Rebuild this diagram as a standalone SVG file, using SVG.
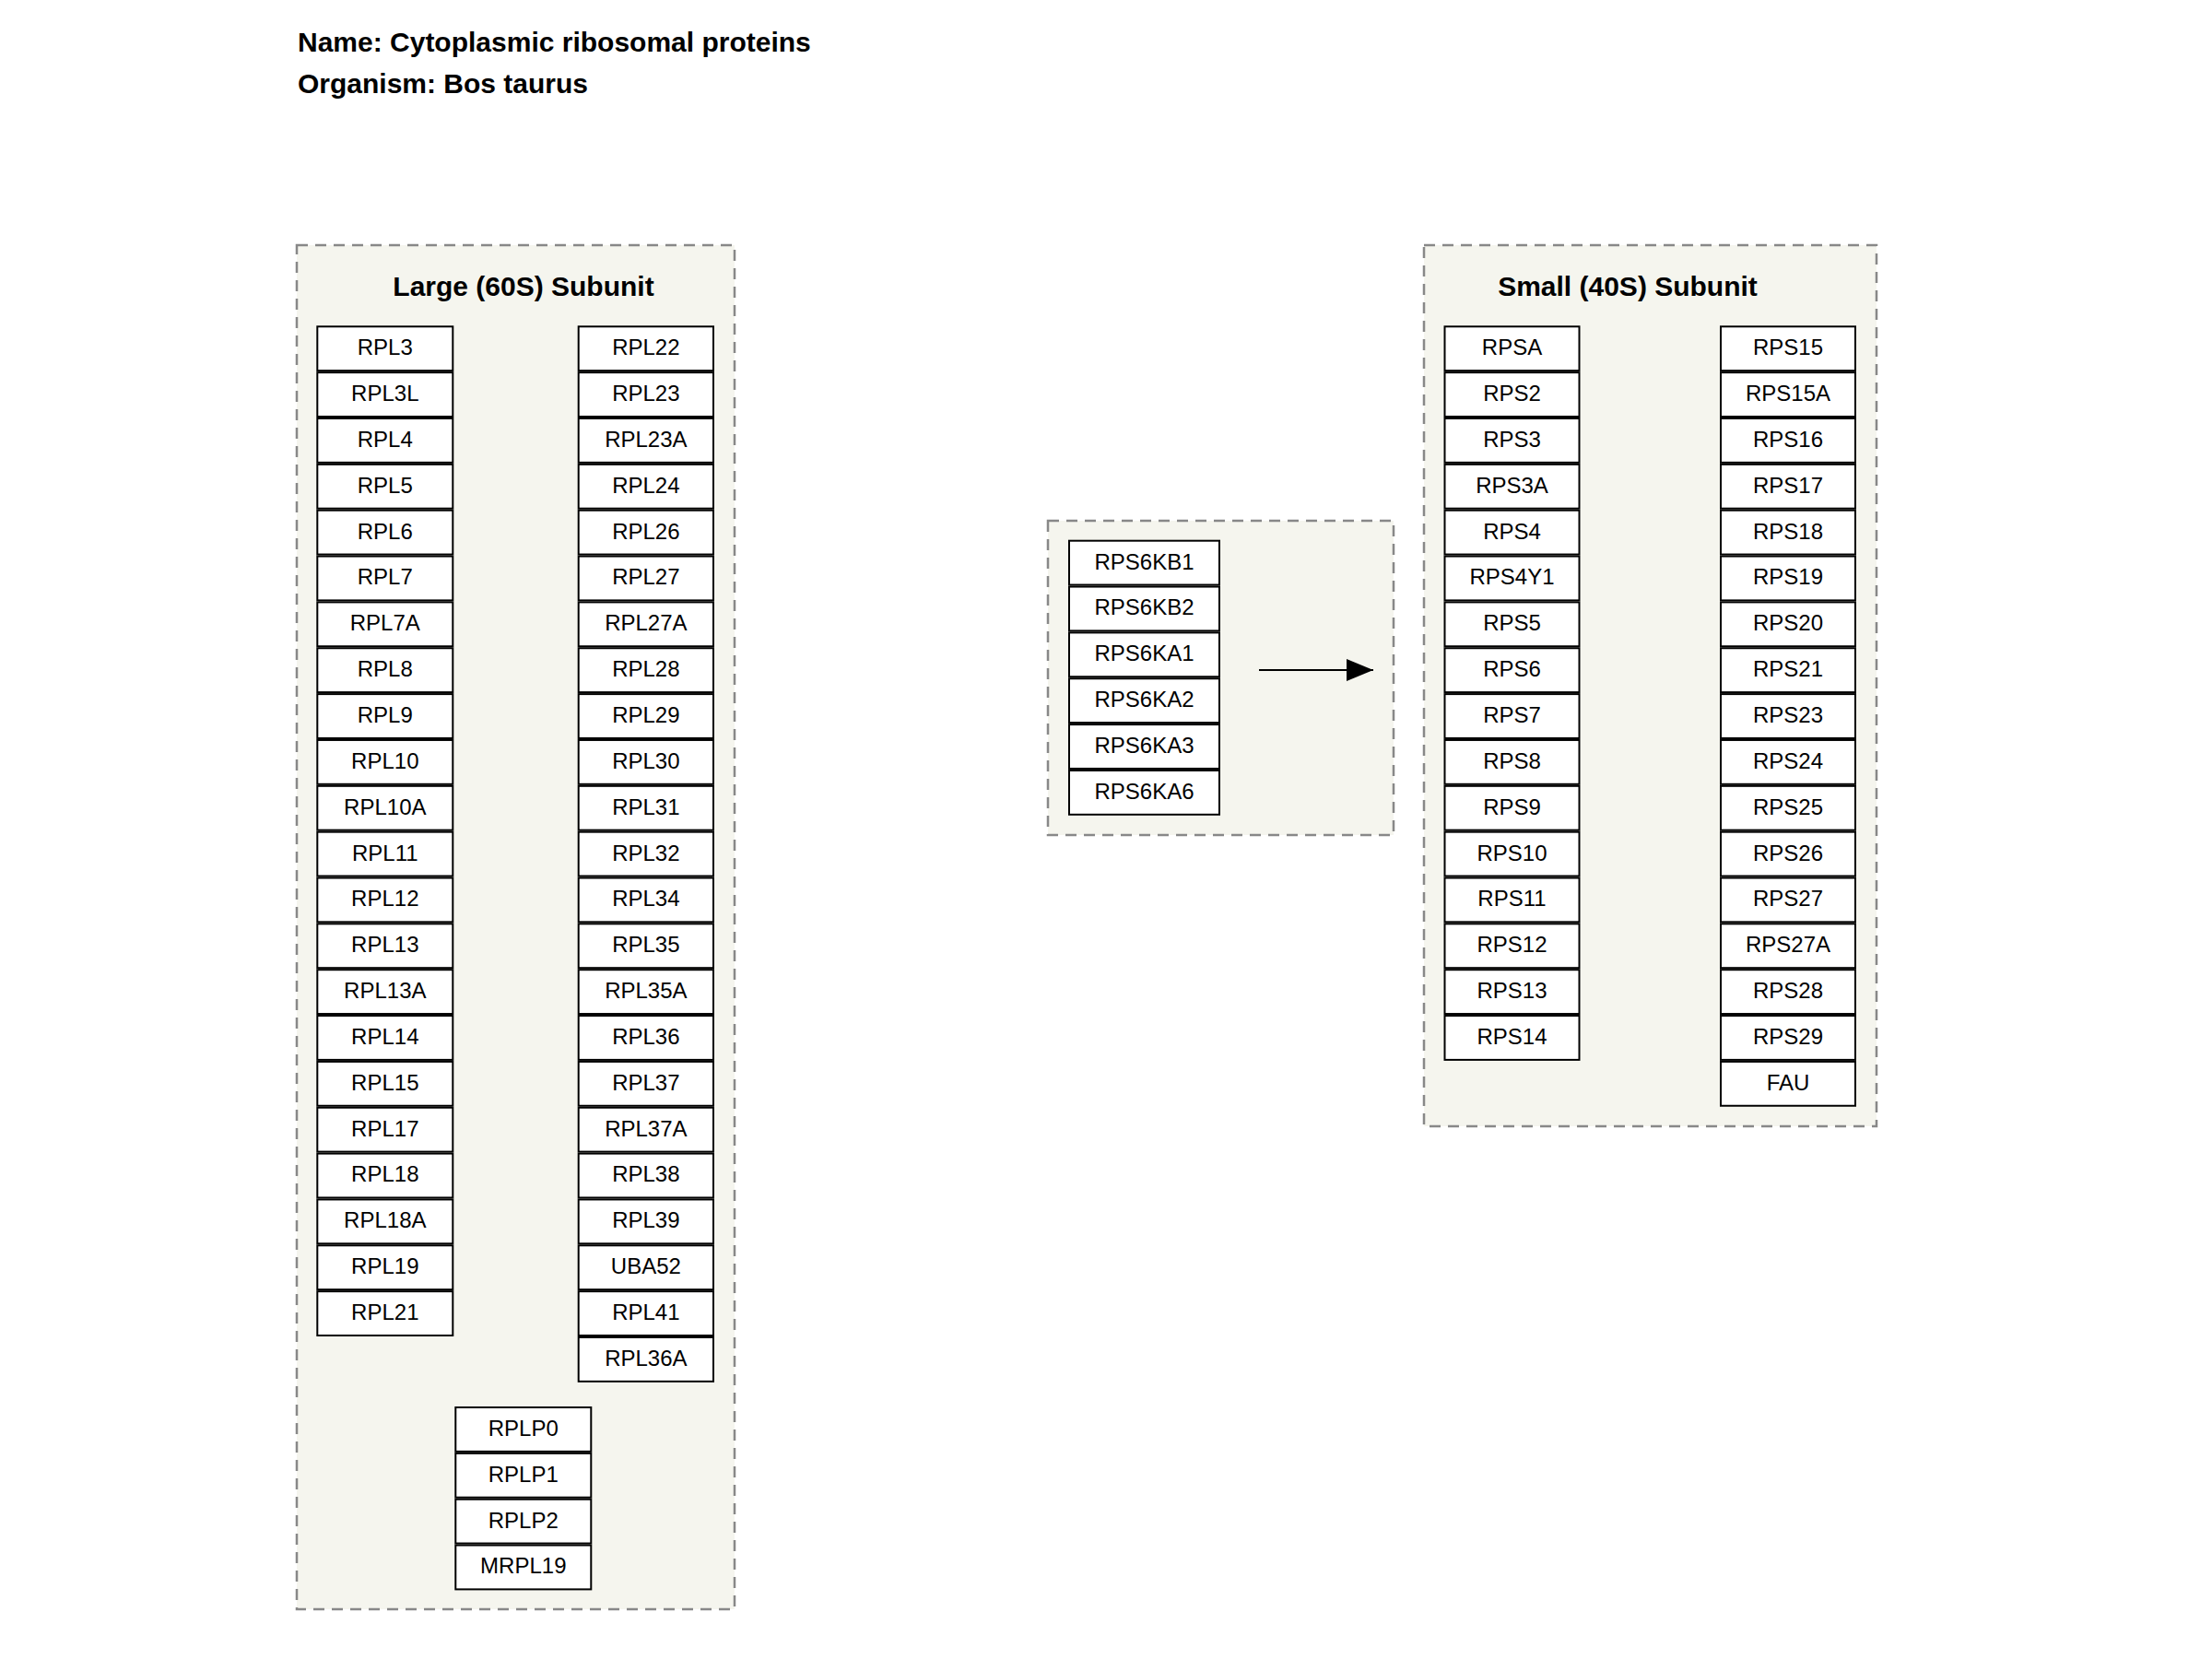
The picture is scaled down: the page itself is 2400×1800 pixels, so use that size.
<svg xmlns="http://www.w3.org/2000/svg" width="2400" height="1800" viewBox="0 0 2400 1800">
<style>
text{font-family:"Liberation Sans",Arial,Helvetica,sans-serif;fill:#000}
.t{font-size:30px;font-weight:bold}
.gl{font-size:30px;font-weight:bold;text-anchor:middle}
.grp{fill:#f5f5ee;stroke:#888;stroke-width:2.5;stroke-dasharray:12,8}
.n rect{fill:#fff;stroke:#000;stroke-width:2}
.n text{font-size:24px;text-anchor:middle}
</style>
<defs>
<marker id="arr" markerWidth="29" markerHeight="24" refX="29" refY="12" orient="auto" markerUnits="userSpaceOnUse"><path d="M0,0 L29,12 L0,24 Z" fill="#000"/></marker>
</defs>
<rect width="2400" height="1800" fill="#fff"/>
<text class="t" x="323" y="56">Name: Cytoplasmic ribosomal proteins</text>
<text class="t" x="323" y="101">Organism: Bos taurus</text>

<g id="group-large">
<rect class="grp" x="322" y="266" width="475" height="1480"/>
<text class="gl" x="568" y="321">Large (60S) Subunit</text>
</g>
<g id="group-small">
<rect class="grp" x="1545" y="266" width="491" height="956"/>
<text class="gl" x="1766" y="321">Small (40S) Subunit</text>
</g>
<g id="group-kinases">
<rect class="grp" x="1137" y="565" width="375" height="341"/>
</g>

<g id="connectors">
<line x1="1366" y1="727" x2="1490" y2="727" stroke="#000" stroke-width="2" marker-end="url(#arr)"/>
</g>

<g id="RPL3" class="n"><rect x="344.3" y="354.3" width="147" height="47.85"/><text x="417.8" y="385.15">RPL3</text></g>
<g id="RPL3L" class="n"><rect x="344.3" y="404.15" width="147" height="47.85"/><text x="417.8" y="435">RPL3L</text></g>
<g id="RPL4" class="n"><rect x="344.3" y="454" width="147" height="47.85"/><text x="417.8" y="484.85">RPL4</text></g>
<g id="RPL5" class="n"><rect x="344.3" y="503.85" width="147" height="47.85"/><text x="417.8" y="534.7">RPL5</text></g>
<g id="RPL6" class="n"><rect x="344.3" y="553.7" width="147" height="47.85"/><text x="417.8" y="584.55">RPL6</text></g>
<g id="RPL7" class="n"><rect x="344.3" y="603.55" width="147" height="47.85"/><text x="417.8" y="634.4">RPL7</text></g>
<g id="RPL7A" class="n"><rect x="344.3" y="653.4" width="147" height="47.85"/><text x="417.8" y="684.25">RPL7A</text></g>
<g id="RPL8" class="n"><rect x="344.3" y="703.25" width="147" height="47.85"/><text x="417.8" y="734.1">RPL8</text></g>
<g id="RPL9" class="n"><rect x="344.3" y="753.1" width="147" height="47.85"/><text x="417.8" y="783.95">RPL9</text></g>
<g id="RPL10" class="n"><rect x="344.3" y="802.95" width="147" height="47.85"/><text x="417.8" y="833.8">RPL10</text></g>
<g id="RPL10A" class="n"><rect x="344.3" y="852.8" width="147" height="47.85"/><text x="417.8" y="883.65">RPL10A</text></g>
<g id="RPL11" class="n"><rect x="344.3" y="902.65" width="147" height="47.85"/><text x="417.8" y="933.5">RPL11</text></g>
<g id="RPL12" class="n"><rect x="344.3" y="952.5" width="147" height="47.85"/><text x="417.8" y="983.35">RPL12</text></g>
<g id="RPL13" class="n"><rect x="344.3" y="1002.35" width="147" height="47.85"/><text x="417.8" y="1033.2">RPL13</text></g>
<g id="RPL13A" class="n"><rect x="344.3" y="1052.2" width="147" height="47.85"/><text x="417.8" y="1083.05">RPL13A</text></g>
<g id="RPL14" class="n"><rect x="344.3" y="1102.05" width="147" height="47.85"/><text x="417.8" y="1132.9">RPL14</text></g>
<g id="RPL15" class="n"><rect x="344.3" y="1151.9" width="147" height="47.85"/><text x="417.8" y="1182.75">RPL15</text></g>
<g id="RPL17" class="n"><rect x="344.3" y="1201.75" width="147" height="47.85"/><text x="417.8" y="1232.6">RPL17</text></g>
<g id="RPL18" class="n"><rect x="344.3" y="1251.6" width="147" height="47.85"/><text x="417.8" y="1282.45">RPL18</text></g>
<g id="RPL18A" class="n"><rect x="344.3" y="1301.45" width="147" height="47.85"/><text x="417.8" y="1332.3">RPL18A</text></g>
<g id="RPL19" class="n"><rect x="344.3" y="1351.3" width="147" height="47.85"/><text x="417.8" y="1382.15">RPL19</text></g>
<g id="RPL21" class="n"><rect x="344.3" y="1401.15" width="147" height="47.85"/><text x="417.8" y="1432">RPL21</text></g>

<g id="RPL22" class="n"><rect x="627.7" y="354.3" width="146.3" height="47.85"/><text x="700.85" y="385.15">RPL22</text></g>
<g id="RPL23" class="n"><rect x="627.7" y="404.15" width="146.3" height="47.85"/><text x="700.85" y="435">RPL23</text></g>
<g id="RPL23A" class="n"><rect x="627.7" y="454" width="146.3" height="47.85"/><text x="700.85" y="484.85">RPL23A</text></g>
<g id="RPL24" class="n"><rect x="627.7" y="503.85" width="146.3" height="47.85"/><text x="700.85" y="534.7">RPL24</text></g>
<g id="RPL26" class="n"><rect x="627.7" y="553.7" width="146.3" height="47.85"/><text x="700.85" y="584.55">RPL26</text></g>
<g id="RPL27" class="n"><rect x="627.7" y="603.55" width="146.3" height="47.85"/><text x="700.85" y="634.4">RPL27</text></g>
<g id="RPL27A" class="n"><rect x="627.7" y="653.4" width="146.3" height="47.85"/><text x="700.85" y="684.25">RPL27A</text></g>
<g id="RPL28" class="n"><rect x="627.7" y="703.25" width="146.3" height="47.85"/><text x="700.85" y="734.1">RPL28</text></g>
<g id="RPL29" class="n"><rect x="627.7" y="753.1" width="146.3" height="47.85"/><text x="700.85" y="783.95">RPL29</text></g>
<g id="RPL30" class="n"><rect x="627.7" y="802.95" width="146.3" height="47.85"/><text x="700.85" y="833.8">RPL30</text></g>
<g id="RPL31" class="n"><rect x="627.7" y="852.8" width="146.3" height="47.85"/><text x="700.85" y="883.65">RPL31</text></g>
<g id="RPL32" class="n"><rect x="627.7" y="902.65" width="146.3" height="47.85"/><text x="700.85" y="933.5">RPL32</text></g>
<g id="RPL34" class="n"><rect x="627.7" y="952.5" width="146.3" height="47.85"/><text x="700.85" y="983.35">RPL34</text></g>
<g id="RPL35" class="n"><rect x="627.7" y="1002.35" width="146.3" height="47.85"/><text x="700.85" y="1033.2">RPL35</text></g>
<g id="RPL35A" class="n"><rect x="627.7" y="1052.2" width="146.3" height="47.85"/><text x="700.85" y="1083.05">RPL35A</text></g>
<g id="RPL36" class="n"><rect x="627.7" y="1102.05" width="146.3" height="47.85"/><text x="700.85" y="1132.9">RPL36</text></g>
<g id="RPL37" class="n"><rect x="627.7" y="1151.9" width="146.3" height="47.85"/><text x="700.85" y="1182.75">RPL37</text></g>
<g id="RPL37A" class="n"><rect x="627.7" y="1201.75" width="146.3" height="47.85"/><text x="700.85" y="1232.6">RPL37A</text></g>
<g id="RPL38" class="n"><rect x="627.7" y="1251.6" width="146.3" height="47.85"/><text x="700.85" y="1282.45">RPL38</text></g>
<g id="RPL39" class="n"><rect x="627.7" y="1301.45" width="146.3" height="47.85"/><text x="700.85" y="1332.3">RPL39</text></g>
<g id="UBA52" class="n"><rect x="627.7" y="1351.3" width="146.3" height="47.85"/><text x="700.85" y="1382.15">UBA52</text></g>
<g id="RPL41" class="n"><rect x="627.7" y="1401.15" width="146.3" height="47.85"/><text x="700.85" y="1432">RPL41</text></g>
<g id="RPL36A" class="n"><rect x="627.7" y="1451" width="146.3" height="47.85"/><text x="700.85" y="1481.85">RPL36A</text></g>

<g id="RPLP0" class="n"><rect x="494.3" y="1527" width="147" height="47.85"/><text x="567.8" y="1557.85">RPLP0</text></g>
<g id="RPLP1" class="n"><rect x="494.3" y="1576.85" width="147" height="47.85"/><text x="567.8" y="1607.7">RPLP1</text></g>
<g id="RPLP2" class="n"><rect x="494.3" y="1626.7" width="147" height="47.85"/><text x="567.8" y="1657.55">RPLP2</text></g>
<g id="MRPL19" class="n"><rect x="494.3" y="1676.55" width="147" height="47.85"/><text x="567.8" y="1707.4">MRPL19</text></g>

<g id="RPS6KB1" class="n"><rect x="1160" y="586.7" width="163" height="47.85"/><text x="1241.5" y="617.55">RPS6KB1</text></g>
<g id="RPS6KB2" class="n"><rect x="1160" y="636.55" width="163" height="47.85"/><text x="1241.5" y="667.4">RPS6KB2</text></g>
<g id="RPS6KA1" class="n"><rect x="1160" y="686.4" width="163" height="47.85"/><text x="1241.5" y="717.25">RPS6KA1</text></g>
<g id="RPS6KA2" class="n"><rect x="1160" y="736.25" width="163" height="47.85"/><text x="1241.5" y="767.1">RPS6KA2</text></g>
<g id="RPS6KA3" class="n"><rect x="1160" y="786.1" width="163" height="47.85"/><text x="1241.5" y="816.95">RPS6KA3</text></g>
<g id="RPS6KA6" class="n"><rect x="1160" y="835.95" width="163" height="47.85"/><text x="1241.5" y="866.8">RPS6KA6</text></g>

<g id="RPSA" class="n"><rect x="1567.5" y="354.3" width="146" height="47.85"/><text x="1640.5" y="385.15">RPSA</text></g>
<g id="RPS2" class="n"><rect x="1567.5" y="404.15" width="146" height="47.85"/><text x="1640.5" y="435">RPS2</text></g>
<g id="RPS3" class="n"><rect x="1567.5" y="454" width="146" height="47.85"/><text x="1640.5" y="484.85">RPS3</text></g>
<g id="RPS3A" class="n"><rect x="1567.5" y="503.85" width="146" height="47.85"/><text x="1640.5" y="534.7">RPS3A</text></g>
<g id="RPS4" class="n"><rect x="1567.5" y="553.7" width="146" height="47.85"/><text x="1640.5" y="584.55">RPS4</text></g>
<g id="RPS4Y1" class="n"><rect x="1567.5" y="603.55" width="146" height="47.85"/><text x="1640.5" y="634.4">RPS4Y1</text></g>
<g id="RPS5" class="n"><rect x="1567.5" y="653.4" width="146" height="47.85"/><text x="1640.5" y="684.25">RPS5</text></g>
<g id="RPS6" class="n"><rect x="1567.5" y="703.25" width="146" height="47.85"/><text x="1640.5" y="734.1">RPS6</text></g>
<g id="RPS7" class="n"><rect x="1567.5" y="753.1" width="146" height="47.85"/><text x="1640.5" y="783.95">RPS7</text></g>
<g id="RPS8" class="n"><rect x="1567.5" y="802.95" width="146" height="47.85"/><text x="1640.5" y="833.8">RPS8</text></g>
<g id="RPS9" class="n"><rect x="1567.5" y="852.8" width="146" height="47.85"/><text x="1640.5" y="883.65">RPS9</text></g>
<g id="RPS10" class="n"><rect x="1567.5" y="902.65" width="146" height="47.85"/><text x="1640.5" y="933.5">RPS10</text></g>
<g id="RPS11" class="n"><rect x="1567.5" y="952.5" width="146" height="47.85"/><text x="1640.5" y="983.35">RPS11</text></g>
<g id="RPS12" class="n"><rect x="1567.5" y="1002.35" width="146" height="47.85"/><text x="1640.5" y="1033.2">RPS12</text></g>
<g id="RPS13" class="n"><rect x="1567.5" y="1052.2" width="146" height="47.85"/><text x="1640.5" y="1083.05">RPS13</text></g>
<g id="RPS14" class="n"><rect x="1567.5" y="1102.05" width="146" height="47.85"/><text x="1640.5" y="1132.9">RPS14</text></g>

<g id="RPS15" class="n"><rect x="1867" y="354.3" width="146" height="47.85"/><text x="1940" y="385.15">RPS15</text></g>
<g id="RPS15A" class="n"><rect x="1867" y="404.15" width="146" height="47.85"/><text x="1940" y="435">RPS15A</text></g>
<g id="RPS16" class="n"><rect x="1867" y="454" width="146" height="47.85"/><text x="1940" y="484.85">RPS16</text></g>
<g id="RPS17" class="n"><rect x="1867" y="503.85" width="146" height="47.85"/><text x="1940" y="534.7">RPS17</text></g>
<g id="RPS18" class="n"><rect x="1867" y="553.7" width="146" height="47.85"/><text x="1940" y="584.55">RPS18</text></g>
<g id="RPS19" class="n"><rect x="1867" y="603.55" width="146" height="47.85"/><text x="1940" y="634.4">RPS19</text></g>
<g id="RPS20" class="n"><rect x="1867" y="653.4" width="146" height="47.85"/><text x="1940" y="684.25">RPS20</text></g>
<g id="RPS21" class="n"><rect x="1867" y="703.25" width="146" height="47.85"/><text x="1940" y="734.1">RPS21</text></g>
<g id="RPS23" class="n"><rect x="1867" y="753.1" width="146" height="47.85"/><text x="1940" y="783.95">RPS23</text></g>
<g id="RPS24" class="n"><rect x="1867" y="802.95" width="146" height="47.85"/><text x="1940" y="833.8">RPS24</text></g>
<g id="RPS25" class="n"><rect x="1867" y="852.8" width="146" height="47.85"/><text x="1940" y="883.65">RPS25</text></g>
<g id="RPS26" class="n"><rect x="1867" y="902.65" width="146" height="47.85"/><text x="1940" y="933.5">RPS26</text></g>
<g id="RPS27" class="n"><rect x="1867" y="952.5" width="146" height="47.85"/><text x="1940" y="983.35">RPS27</text></g>
<g id="RPS27A" class="n"><rect x="1867" y="1002.35" width="146" height="47.85"/><text x="1940" y="1033.2">RPS27A</text></g>
<g id="RPS28" class="n"><rect x="1867" y="1052.2" width="146" height="47.85"/><text x="1940" y="1083.05">RPS28</text></g>
<g id="RPS29" class="n"><rect x="1867" y="1102.05" width="146" height="47.85"/><text x="1940" y="1132.9">RPS29</text></g>
<g id="FAU" class="n"><rect x="1867" y="1151.9" width="146" height="47.85"/><text x="1940" y="1182.75">FAU</text></g>
</svg>
